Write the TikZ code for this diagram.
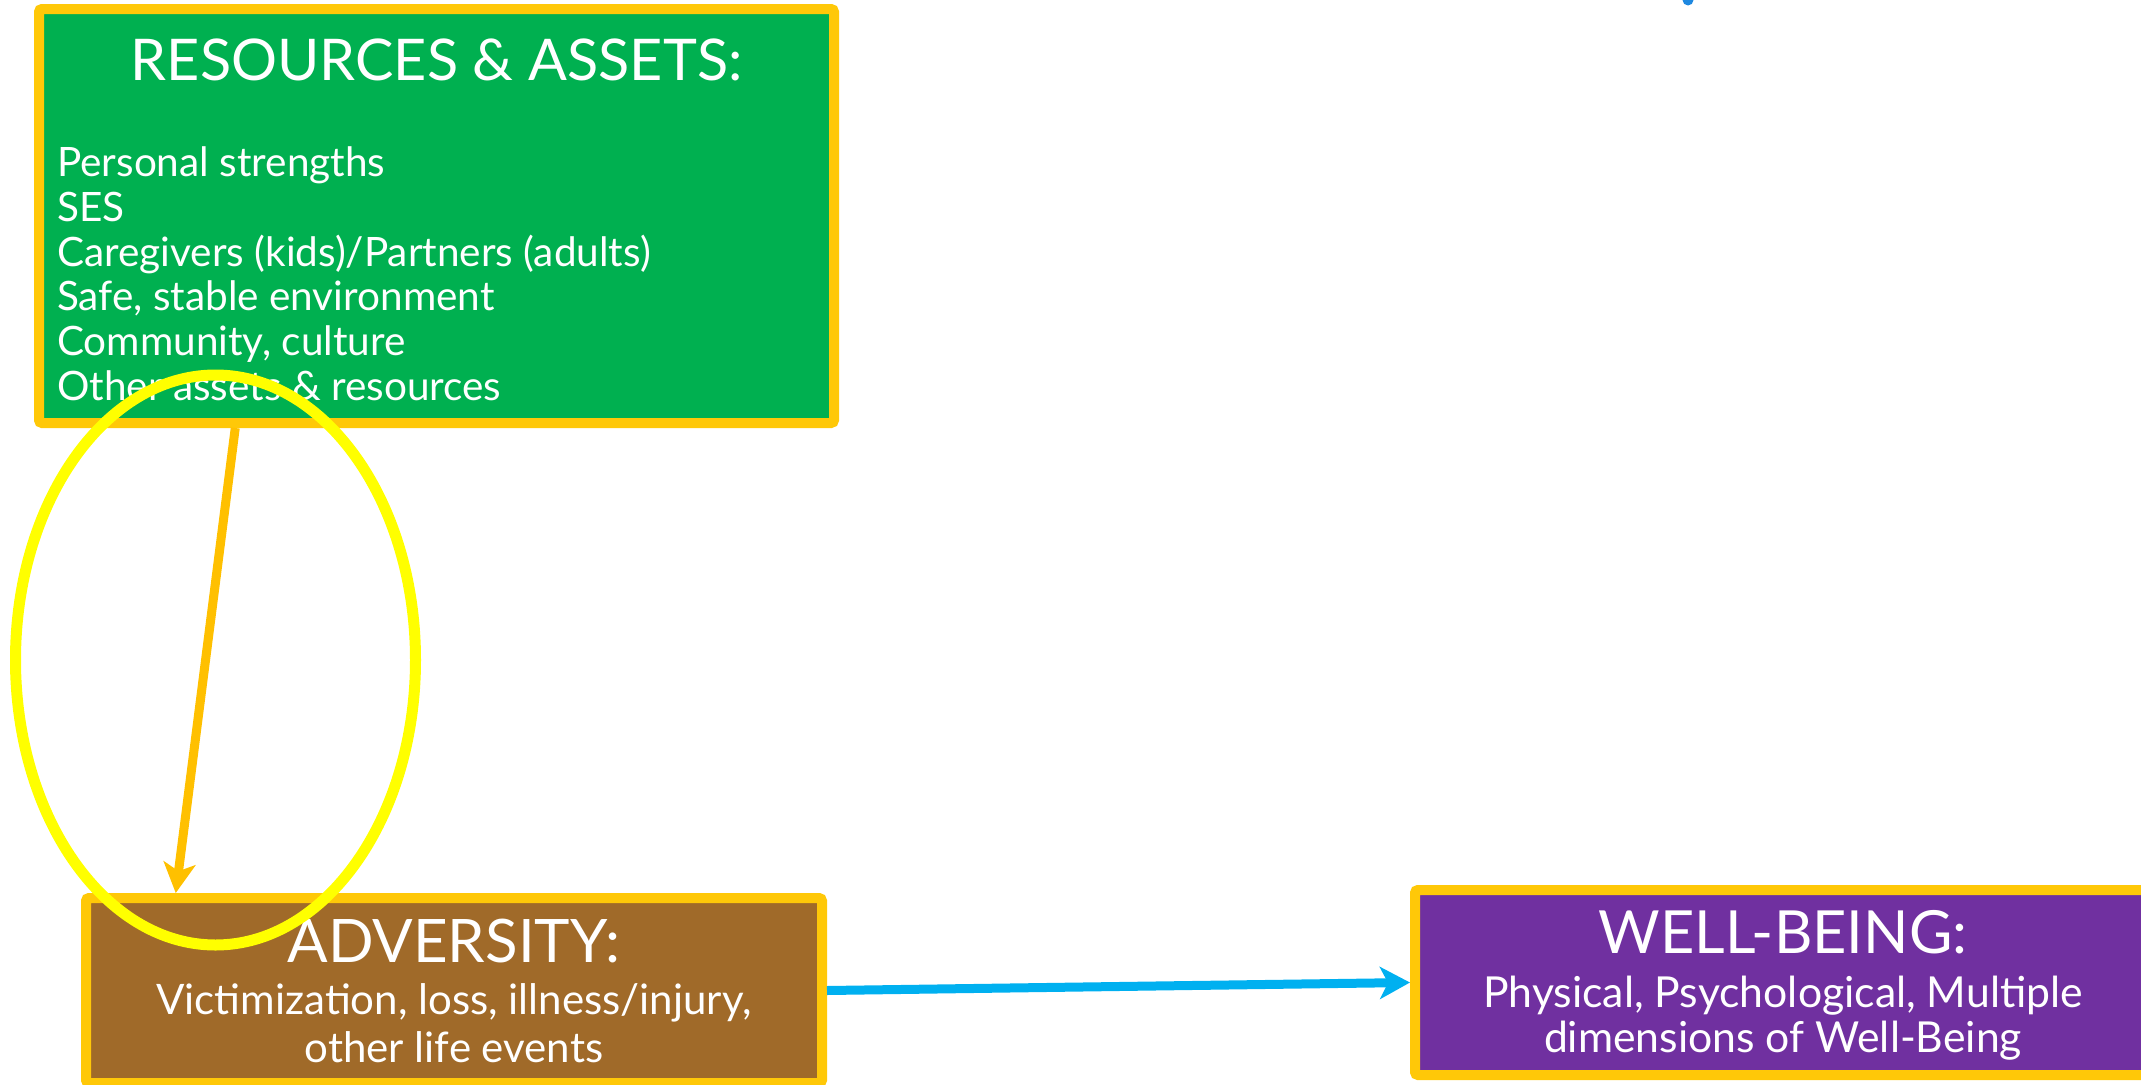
\documentclass[tikz,border=0pt]{standalone}
\usepackage{fontspec}
\setmainfont{Lato}
\usetikzlibrary{arrows.meta,calc}
\definecolor{boxborder}{HTML}{FFC808}
\definecolor{resgreen}{HTML}{00B050}
\definecolor{advbrown}{HTML}{A06A29}
\definecolor{wbpurple}{HTML}{7030A0}
\definecolor{arroworange}{HTML}{FFC000}
\definecolor{arrowblue}{HTML}{00B0F0}
\definecolor{hlyellow}{HTML}{FFFF00}
\definecolor{dotblue}{HTML}{1E88E0}
\tikzset{
  box/.style={draw=boxborder, line width=10pt, rounded corners=3pt, inner sep=0pt, rectangle},
  txt/.style={inner sep=0pt, text=white},
  flow/.style={line width=9pt, -{Stealth[length=30pt,width=32pt,inset=8pt]}},
  hl/.style={draw=hlyellow, line width=11pt},
}
\newcommand{\fs}[2]{\fontsize{#1pt}{#2pt}\selectfont}
\begin{document}
\begin{tikzpicture}[x=1pt,y=-1pt]
\path[use as bounding box] (0,0) rectangle (2141,1084);
\clip (0,0) rectangle (2141,1084);
% boxes
\node[box, fill=resgreen, minimum width=795pt, minimum height=414pt] (res) at (436.5,216) {};
\node[box, fill=advbrown, minimum width=736pt, minimum height=185pt] (adv) at (454,990.5) {};
\node[box, fill=wbpurple, minimum width=736pt, minimum height=185pt] (wb) at (1783,982.5) {};
% resources text
\node[txt, anchor=base, font=\fs{57.5}{60}] (restitle) at (436.5,80) {RESOURCES \& ASSETS:};
\node[txt, anchor=base west, font=\fs{40.5}{45}] (r1) at (57,176) {Personal strengths};
\node[txt, anchor=base west, font=\fs{40.5}{45}] (r2) at (57,221) {SES};
\node[txt, anchor=base west, font=\fs{40.5}{45}] (r3) at (57,266) {Caregivers (kids)/Partners (adults)};
\node[txt, anchor=base west, font=\fs{40.5}{45}] (r4) at (57,310.5) {Safe, stable environment};
\node[txt, anchor=base west, font=\fs{40.5}{45}] (r5) at (57,355) {Community, culture};
\node[txt, anchor=base west, font=\fs{40.5}{45}] (r6) at (57,400) {Other assets \& resources};
% adversity text
\node[txt, anchor=base, font=\fs{60}{60}] (advtitle) at (454,962) {ADVERSITY:};
\node[txt, anchor=base, font=\fs{42}{48}] (adv1) at (454,1014) {Victimization, loss, illness/injury,};
\node[txt, anchor=base, font=\fs{42}{48}] (adv2) at (454,1062) {other life events};
% well-being text
\node[txt, anchor=base, font=\fs{59.5}{60}] (wbtitle) at (1783,953) {WELL-BEING:};
\node[txt, anchor=base, font=\fs{42.7}{45}] (wb1) at (1783,1007) {Physical, Psychological, Multiple};
\node[txt, anchor=base, font=\fs{42.7}{45}] (wb2) at (1783,1052) {dimensions of Well-Being};
% connectors
\draw[flow, draw=arroworange, fill=arroworange] ($(res.south west)!0.25!(res.south east)$) -- ($(adv.north west)!0.127!(adv.north east)$);
\draw[flow, draw=arrowblue, fill=arrowblue] (adv.east) -- (wb.west);
% highlight ellipse
\draw[hl] (215.5,660) ellipse [x radius=200pt, y radius=285pt];
% cut-off blue mark at the top
\fill[dotblue] (1688,0) circle [radius=5.5pt];
\end{tikzpicture}
\end{document}
